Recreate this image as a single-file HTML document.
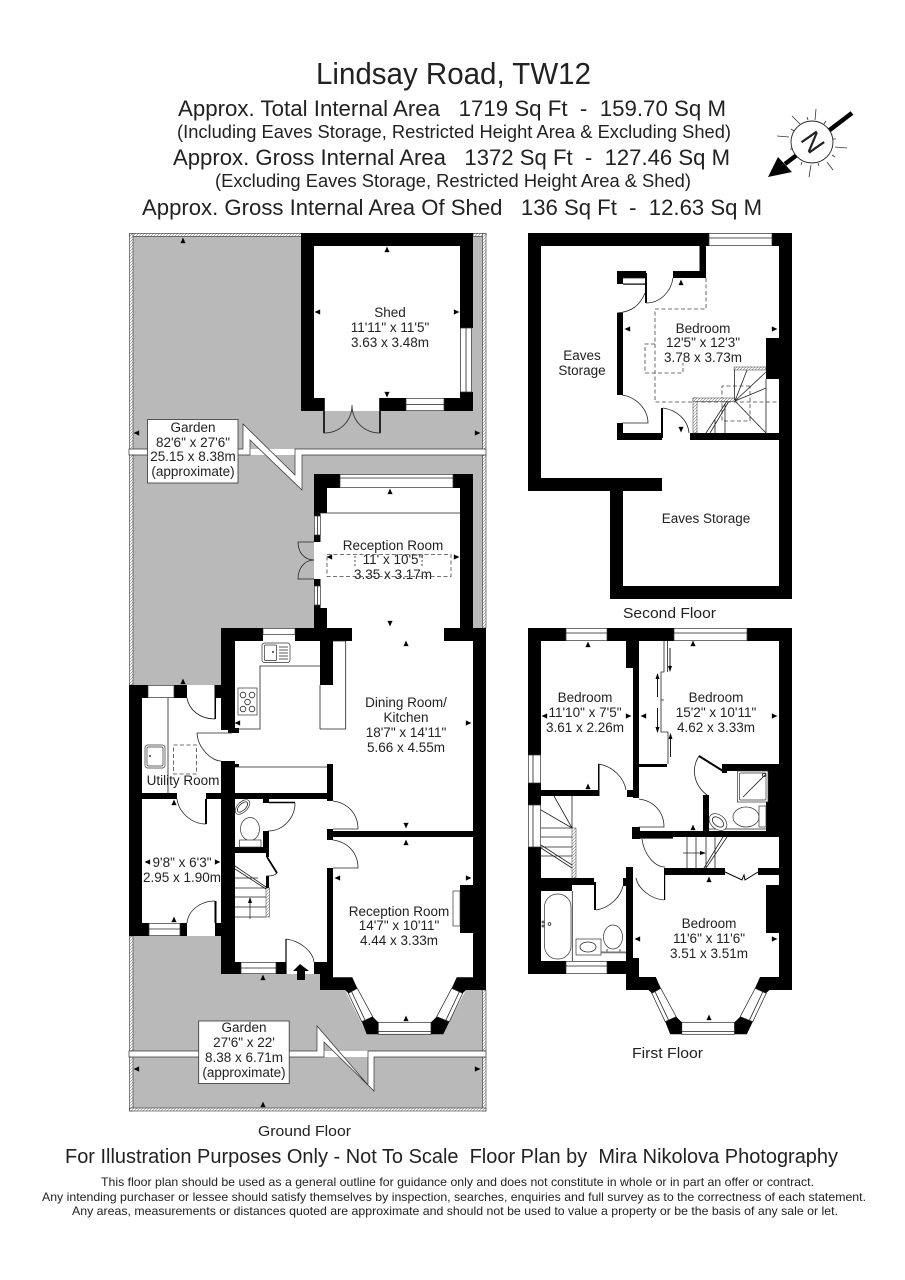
<!DOCTYPE html>
<html><head><meta charset="utf-8"><title>Lindsay Road, TW12</title>
<style>
html,body{margin:0;padding:0;background:#fff}
svg{display:block}
text{font-family:"Liberation Sans",sans-serif;fill:#222}
.r{font-size:13.5px;text-anchor:middle}
.k rect,.k polygon{fill:#000;stroke:none}
.w{fill:#fff;stroke:#333;stroke-width:.7}
.l{fill:none;stroke:#222;stroke-width:.8}
.d{fill:none;stroke:#444;stroke-width:.8;stroke-dasharray:4 2.5}
</style></head><body>
<svg width="905" height="1280" viewBox="0 0 905 1280" xmlns="http://www.w3.org/2000/svg">
<defs>
<pattern id="h" width="3" height="3" patternUnits="userSpaceOnUse"><rect width="3" height="3" fill="#fff"/><path d="M0 3L3 0" stroke="#555" stroke-width=".5"/></pattern>
<g id="u"><path d="M-2.2 2.500L0 -2.500L2.200 2.500Z" fill="#000"/><path d="M-2.500 2.800H2.500" stroke="#000" stroke-width=".7"/></g>
<g id="bay">
<polygon fill="#000" points="361.700,1021.700 372.700,1016.700 378.300,1022.300 378.300,1034.300 366.700,1034.300"/>
<polygon fill="#000" points="431,1022.300 436.700,1016.700 449.300,1021.700 443.300,1034.300 431,1034.300"/>
<polygon fill="#fff" stroke="#222" stroke-width=".7" points="348.300,993.300 357.300,988.300 372.700,1016.700 361.700,1021.700"/>
<polygon fill="#fff" stroke="#222" stroke-width=".7" points="436.700,1016.700 451.700,988.300 462.700,993.300 449.300,1021.700"/>
<path d="M351.500 991.500L365 1020M459.500 991.500L446 1020" stroke="#222" stroke-width=".8" fill="none"/>
<rect x="378.300" y="1022.300" width="52.700" height="12" fill="#fff" stroke="#222" stroke-width=".7"/>
<path d="M378.300 1031.500H431" stroke="#222" stroke-width=".8"/>
</g>
</defs>
<rect width="905" height="1280" fill="#fff"/>

<!-- Titles -->
<text x="316" y="84" font-size="31" textLength="275" lengthAdjust="spacingAndGlyphs">Lindsay Road, TW12</text>
<text x="178" y="116" font-size="22" textLength="548" lengthAdjust="spacingAndGlyphs" xml:space="preserve">Approx. Total Internal Area   1719 Sq Ft  -  159.70 Sq M</text>
<text x="177" y="138" font-size="18.5" textLength="554" lengthAdjust="spacingAndGlyphs">(Including Eaves Storage, Restricted Height Area &amp; Excluding Shed)</text>
<text x="173" y="165" font-size="22" textLength="557" lengthAdjust="spacingAndGlyphs" xml:space="preserve">Approx. Gross Internal Area   1372 Sq Ft  -  127.46 Sq M</text>
<text x="215" y="187" font-size="18.5" textLength="476" lengthAdjust="spacingAndGlyphs">(Excluding Eaves Storage, Restricted Height Area &amp; Shed)</text>
<text x="142" y="215" font-size="22" textLength="620" lengthAdjust="spacingAndGlyphs" xml:space="preserve">Approx. Gross Internal Area Of Shed   136 Sq Ft  -  12.63 Sq M</text>

<!-- Compass -->
<g>
<path d="M852 113L785 164" stroke="#000" stroke-width="4.5"/>
<polygon points="768,177 778,157 792,172" fill="#000"/>
<circle cx="812" cy="142" r="21" fill="#fff" stroke="#222" stroke-width=".9"/>
<path d="M816 109L815 120M792 116L800 124M777 136L789 137M809 177L811 165M833 170L827 162M847 148L835 147M807 117L808 120M826 121L824 124M790 149L793 149M836 139L833 139M791 129L794 131M835 157L832 155M801 165L802 162M819 166L818 163" stroke="#333" stroke-width=".8"/>
<text transform="translate(813 142) rotate(55)" y="9.5" font-size="27" text-anchor="middle">N</text>
</g>

<!-- GROUND FLOOR garden -->
<rect x="129.500" y="233" width="356.500" height="216" fill="#b9b9b9"/>
<rect x="129.500" y="455" width="356.500" height="596" fill="#b9b9b9"/>
<rect x="129.500" y="1057" width="356.500" height="54" fill="#b9b9b9"/>
<g fill="url(#h)" stroke="#333" stroke-width=".6">
<rect x="129.500" y="233.300" width="172" height="3"/>
<rect x="473" y="233.300" width="13" height="3"/>
<rect x="129.500" y="233.300" width="3.500" height="216"/>
<rect x="482.500" y="233.300" width="3.500" height="216"/>
<rect x="129.500" y="455" width="3.500" height="230"/>
<rect x="482.500" y="455" width="3.500" height="173"/>
<rect x="129.500" y="936" width="3.500" height="115"/>
<rect x="482.500" y="990" width="3.500" height="61"/>
<rect x="129.500" y="1057" width="3.500" height="54"/>
<rect x="482.500" y="1057" width="3.500" height="54"/>
<rect x="129.500" y="1108" width="356.500" height="3"/>
</g>
<polygon points="129,449 243,449 243,424 295,475 295,449 486,449 486,455 302,455 302,490 250,440 250,455 129,455" fill="#fff" stroke="#333" stroke-width=".7"/>
<polygon points="129,1051 317,1051 317,1026 368,1085 368,1051 486,1051 486,1057 374,1057 374,1091 324,1042 324,1057 129,1057" fill="#fff" stroke="#333" stroke-width=".7"/>

<!-- white interiors -->
<rect x="314" y="246" width="146" height="165" fill="#fff"/>
<polygon points="314,474 473,474 473,628 486,628 486,990 466,990 449,1022 443,1034 367,1034 361,1022 345,990 320,990 320,974 221,974 221,936 129,936 129,685 221,685 221,628 314,628" fill="#fff"/>

<!-- Ground walls -->
<g class="k">
<rect x="301" y="233" width="172" height="13"/>
<rect x="301" y="246" width="13" height="165"/>
<rect x="314" y="398" width="10" height="13"/>
<rect x="460" y="246" width="13" height="82"/>
<rect x="460" y="392" width="13" height="19"/>
<rect x="380" y="398" width="26" height="13"/>
<rect x="444" y="398" width="16" height="13"/>
<rect x="314" y="474" width="26" height="14"/>
<rect x="453" y="474" width="20" height="14"/>
<rect x="314" y="488" width="13" height="25"/>
<rect x="314" y="513" width="6.500" height="3"/>
<rect x="314" y="535" width="6.500" height="7"/>
<rect x="314" y="579" width="6.500" height="7"/>
<rect x="314" y="605" width="6.500" height="3"/>
<rect x="314" y="608" width="13" height="20"/>
<rect x="460" y="488" width="13" height="140"/>
<rect x="221" y="628" width="42" height="13"/>
<rect x="295" y="628" width="57" height="13"/>
<rect x="444" y="628" width="42" height="13"/>
<rect x="473" y="641" width="13" height="349"/>
<rect x="221" y="641" width="14" height="89"/>
<rect x="228" y="728" width="11" height="5"/>
<rect x="320" y="641" width="13" height="44"/>
<rect x="221" y="761" width="14" height="213"/>
<rect x="235" y="764" width="4" height="3"/>
<rect x="129" y="685" width="19" height="13"/>
<rect x="174" y="685" width="13" height="13"/>
<rect x="215" y="685" width="6" height="13"/>
<rect x="129" y="698" width="13" height="238"/>
<rect x="142" y="793" width="35" height="6"/>
<rect x="206" y="793" width="15" height="6"/>
<rect x="142" y="923" width="7" height="13"/>
<rect x="180" y="923" width="7" height="13"/>
<rect x="215" y="923" width="6" height="13"/>
<rect x="214.500" y="685" width="1.500" height="34"/>
<rect x="205" y="799" width="2" height="25"/>
<rect x="214.500" y="901" width="2" height="22"/>
<rect x="235" y="793" width="98" height="6"/>
<rect x="327" y="764" width="6" height="37"/>
<rect x="327" y="829" width="6" height="11"/>
<rect x="333" y="831" width="140" height="6"/>
<rect x="327" y="868" width="6" height="106"/>
<rect x="263" y="799" width="6" height="4"/>
<rect x="263" y="831" width="6" height="16"/>
<rect x="235" y="847" width="34" height="6"/>
<rect x="266" y="853" width="3" height="4"/>
<rect x="266" y="876" width="3" height="12"/>
<rect x="235" y="962" width="6" height="12"/>
<rect x="276" y="962" width="10" height="12"/>
<rect x="314" y="962" width="19" height="12"/>
<rect x="320" y="974" width="13" height="16"/>
<rect x="460" y="885" width="13" height="48"/>
<polygon points="333,977.300 352.300,977.300 357.300,988.300 348.300,993.300 345,990 320,990 320,977"/>
<polygon points="451.700,988.300 456.700,977.300 473,977.300 486,977 486,990 466,990 462.700,993.300"/>
</g>
<use href="#bay"/>
<!-- windows ground -->
<rect class="w" x="460.500" y="328" width="11" height="64"/><path class="l" d="M466 328V392"/>
<rect class="w" x="406" y="398.500" width="38" height="12"/><path class="l" d="M406 404.500H444"/>
<rect class="w" x="340" y="474.500" width="113" height="13"/><path class="l" d="M340 478H453"/>
<rect class="w" x="314.500" y="516" width="6" height="19"/><rect class="w" x="314.500" y="586" width="6" height="19"/>
<path class="l" d="M317.500 516V535M317.500 586V605"/>
<rect class="w" x="263" y="628.500" width="32" height="6"/>
<rect class="w" x="148" y="685.500" width="26" height="12"/>
<rect class="w" x="149" y="923.500" width="31" height="12"/><path class="l" d="M149 929H180"/>
<rect class="w" x="241" y="962.500" width="35" height="11"/><path class="l" d="M241 968H276"/>
<rect class="w" x="453" y="891" width="7" height="35"/>

<!-- shed doors -->
<path d="M324 398V433M380 398V433" stroke="#000" stroke-width="1.600"/>
<path class="l" d="M324 433C340 433 352 421 352 405M380 433C364 433 352 421 352 405" stroke-width="1"/>
<!-- reception french doors -->
<path class="l" d="M314 542H298C298 552 304 560 314 560M314 579H298C298 569 304 560 314 560"/>
<path class="l" d="M321 513H460"/>
<!-- kitchen fittings -->
<path class="l" d="M345.700 641V729H320M320 685V729M235 729H260V666H320M333 641H345.700"/>
<rect class="w" x="262" y="643" width="28" height="19.500" rx="2.500"/>
<rect class="w" x="264.500" y="645" width="12" height="15.500" rx="1"/>
<path class="l" d="M279 647H288M279 650H288M279 653H288M279 656H288M279 659H288"/>
<circle cx="273" cy="652" r="1" fill="#333"/>
<rect class="w" x="238" y="688" width="19" height="27"/>
<g class="l"><circle cx="243" cy="695" r="2.800"/><circle cx="252" cy="695" r="2.800"/><circle cx="247.500" cy="702" r="2.800"/><circle cx="243" cy="709" r="2.800"/><circle cx="252" cy="709" r="2.800"/></g>
<!-- utility fittings -->
<path class="l" d="M168 698V793"/>
<rect class="w" x="145" y="745" width="20" height="23" rx="2.500"/>
<rect class="w" x="147" y="747" width="16" height="19" rx="1.500"/>
<circle cx="150" cy="756" r="1" fill="#333"/>
<rect class="d" x="173.500" y="745" width="23" height="29"/>
<path class="l" d="M187 698C189 710 200 719 215 719"/>
<path class="l" d="M197 733H232M197 733C198 749 212 761 221 761"/>
<path class="l" d="M177 799C179 813 192 824 206 824"/>
<path class="l" d="M187 923C188 911 200 901 215 901"/>
<!-- hall -->
<path class="l" d="M235 767H327"/>
<path class="l" d="M333 801C348 803 358 814 358 829H333"/>
<path class="l" d="M333 840C348 842 358 853 358 868H333"/>
<path class="l" d="M295 803C295 818 283 831 268 831"/>
<path d="M269 802.500H295" stroke="#000" stroke-width="1.400"/>
<path class="l" d="M286 939C301 941 313 952 314 962"/>
<path d="M286 939V974" stroke="#000" stroke-width="1.200"/>
<polygon points="300,964 293,971 297,971 297,980 305,980 305,971 309,971" fill="#000"/>
<!-- WC -->
<ellipse cx="250" cy="829" rx="9.500" ry="11.500" class="w"/>
<rect class="w" x="239.500" y="840" width="21.500" height="7"/>
<ellipse cx="242.500" cy="807" rx="9" ry="5" transform="rotate(-45 242.500 807)" class="w"/>
<ellipse cx="242.500" cy="807" rx="6.500" ry="3.200" transform="rotate(-45 242.500 807)" class="l"/>
<!-- stairs ground -->
<path class="l" d="M235 878H258M235 888H266M235 897H266M235 907H266M235 917H266M235 866L266 887M235 869L266 889M250 919V899"/>
<rect x="266" y="888" width="3.500" height="29" fill="url(#h)" stroke="#333" stroke-width=".5"/>
<polygon points="250,897 248,903 252,903" fill="#000"/>
<path d="M267 857L277 873" fill="none" stroke="#000" stroke-width="1.800"/>
<path class="l" d="M277 873C274 876 270 876 266 876"/>

<!-- Garden labels -->
<rect x="147.500" y="419.500" width="90.500" height="63.500" fill="#fff" stroke="#333" stroke-width=".8"/>
<rect x="198.700" y="1021" width="90.500" height="62.500" fill="#fff" stroke="#333" stroke-width=".8"/>

<!-- SECOND FLOOR -->
<g class="k">
<rect x="528" y="233" width="181" height="13"/>
<rect x="772" y="233" width="20" height="13"/>
<rect x="779" y="246" width="13" height="353"/>
<rect x="528" y="246" width="13" height="245"/>
<rect x="541" y="478" width="121" height="13"/>
<rect x="610" y="491" width="13" height="108"/>
<rect x="623" y="586" width="156" height="13"/>
<rect x="699.500" y="246" width="6.500" height="32"/>
<rect x="673" y="271" width="33" height="7"/>
<rect x="617" y="271" width="29" height="7"/>
<rect x="617" y="278" width="6" height="6"/>
<rect x="645" y="273" width="2" height="30"/>
<rect x="623" y="283.500" width="22" height="1.200"/>
<rect x="617" y="313" width="6" height="82"/>
<rect x="617" y="423" width="6" height="17"/>
<rect x="617" y="433" width="45" height="7"/>
<rect x="661" y="408" width="2" height="30"/>
<rect x="690" y="433" width="89" height="7"/>
<rect x="766" y="338" width="13" height="41"/>
</g>
<rect class="w" x="709" y="233.500" width="63" height="12"/><path class="l" d="M709 238H772"/>
<path class="l" d="M623 278H645M673 278C671 292 660 303 646 303M645 293C640 305 632 312 617 313"/>
<path class="l" d="M622 395C636 397 648 409 648 423H622"/>
<path class="l" d="M663 408C677 410 688 420 689 433"/>
<path class="d" d="M706 278V309H655V402H778"/>
<path class="d" d="M655 344H645V373H683V363"/>
<path class="d" d="M750 386H722V421H750V386"/>
<rect x="734" y="367" width="32" height="3" fill="url(#h)" stroke="#333" stroke-width=".5"/>
<rect x="693" y="398" width="4" height="35" fill="url(#h)" stroke="#333" stroke-width=".5"/>
<rect x="693" y="398" width="42" height="3.500" fill="url(#h)" stroke="#333" stroke-width=".5"/>
<path class="l" d="M734.500 370V400M766 379V433M735 401L747 370M735 401L766 372M735 401L766 388M735 401L766 433M727 401L706 433M728.500 402L710 433M725 404V433M715 420V433"/>

<!-- FIRST FLOOR -->
<g class="k">
<rect x="528" y="628" width="38" height="13"/>
<rect x="607" y="628" width="67" height="13"/>
<rect x="747" y="628" width="45" height="13"/>
<rect x="779" y="641" width="13" height="349"/>
<rect x="528" y="641" width="13" height="114"/>
<rect x="528" y="783" width="13" height="22"/>
<rect x="528" y="847" width="13" height="127"/>
<rect x="626" y="641" width="7" height="27"/>
<rect x="633" y="641" width="6" height="157"/>
<rect x="541" y="790" width="57" height="6"/>
<rect x="598" y="764" width="1.500" height="32"/>
<rect x="627" y="790" width="12" height="7"/>
<rect x="638" y="764" width="29" height="3"/>
<rect x="632" y="827" width="8" height="12"/>
<rect x="633" y="831" width="146" height="6"/>
<rect x="640" y="837" width="33" height="1.600"/>
<rect x="725" y="764" width="54" height="7"/>
<rect x="722" y="764" width="5" height="9"/>
<rect x="703" y="795" width="6" height="36"/>
<rect x="768" y="771" width="11" height="60"/>
<rect x="766" y="802" width="13" height="29"/>
<rect x="664" y="868" width="61" height="7"/>
<rect x="758" y="868" width="21" height="7"/>
<rect x="664" y="868" width="1.200" height="32"/>
<rect x="626" y="867" width="7" height="123"/>
<rect x="633" y="958" width="6" height="22"/>
<rect x="623" y="878" width="4" height="8"/>
<rect x="541" y="878" width="53" height="7"/>
<rect x="541" y="885" width="31" height="6"/>
<rect x="594" y="882" width="2" height="28"/>
<rect x="541" y="961" width="25" height="13"/>
<rect x="607" y="961" width="19" height="13"/>
<rect x="766" y="885" width="13" height="48"/>
<polygon points="639,977 655.800,977 660.800,988.300 651.800,993.300 648.500,990 626,990 626,977"/>
<polygon points="755,988.300 760,977 779,977 792,977 792,990 769.500,990 766,993.300"/>
</g>
<use href="#bay" transform="translate(303.500 0)"/>
<rect class="w" x="566" y="628.500" width="41" height="12"/><path class="l" d="M566 633H607"/>
<rect class="w" x="674" y="628.500" width="73" height="12"/><path class="l" d="M674 633H747"/>
<rect class="w" x="566" y="961.500" width="41" height="12"/><path class="l" d="M566 966H607"/>
<rect class="w" x="528.500" y="755" width="12" height="28"/><path class="l" d="M533 755V783"/>
<rect class="w" x="528.500" y="805" width="12" height="42"/><path class="l" d="M533 805V847"/>
<!-- wardrobe -->
<path class="l" d="M664 641V672H661V732H668V764M667.500 641V672M661 700H664"/>
<path d="M670 648V670M657.500 675V697M657.500 708V731M670.500 735V757" stroke="#000" stroke-width=".9"/>
<g fill="#000"><polygon points="670,672 668,666 672,666"/><polygon points="657.500,673 655.500,679 659.500,679"/><polygon points="657.500,733 655.500,727 659.500,727"/><polygon points="670.500,733 668.500,739 672.500,739"/></g>
<!-- door ensuite -->
<path d="M699 756L723 771" stroke="#000" stroke-width="2"/>
<path class="l" d="M699 756C690 770 695 786 707 795"/>
<!-- shower -->
<rect class="w" x="737.500" y="771" width="30.500" height="31"/>
<rect class="w" x="739.500" y="773" width="26.500" height="27" rx="1"/>
<path class="l" d="M743 797L765 775"/>
<circle cx="764" cy="775" r="1.600" class="l"/>
<ellipse cx="746" cy="817" rx="13" ry="10" class="w"/>
<rect class="w" x="759" y="806" width="7" height="21"/>
<path class="l" d="M709 829H766"/>
<ellipse cx="718" cy="822" rx="10" ry="7" transform="rotate(40 718 822)" class="w"/>
<ellipse cx="718" cy="822" rx="6.500" ry="4" transform="rotate(40 718 822)" class="l"/>
<path class="l" d="M639 799C654 801 664 812 664 827H639"/>
<!-- door bed 1 -->
<path class="l" d="M598 764C613 766 624 778 626 790"/>
<!-- landing -->
<path class="l" d="M642 839C644 855 655 867 665 867"/>
<path class="l" d="M636 878C638 888 650 899 664 900"/>
<!-- middle stairs -->
<path class="l" d="M687 837V868M696 837V868M706 837V868M715 837V868M727 837L706 868M723 837L704 868M683 853H703"/>
<polygon points="706,853 700,851 700,855" fill="#000"/>
<path d="M725 872L742 880L744 875L745 880L758 872" fill="none" stroke="#000" stroke-width="1"/>
<!-- left stairs -->
<rect x="572" y="828" width="4" height="50" fill="url(#h)" stroke="#333" stroke-width=".5"/>
<path class="l" d="M572 796V828M541 828H572M541 837H572M541 847H572M541 856H572M541 810L572 828M554 796L572 828M541 845L572 865M541 848L572 868"/>
<!-- bathroom -->
<path class="l" d="M572.300 891V961"/>
<path class="l" d="M596 910C609 908 620 898 623 886"/>
<rect class="w" x="544.500" y="894" width="26.500" height="65" rx="13"/>
<g class="l"><circle cx="543" cy="922" r="1"/><circle cx="543" cy="926" r="1"/><circle cx="549.500" cy="924" r="1.400"/></g>
<rect class="w" x="576" y="939" width="25" height="16"/>
<ellipse cx="588" cy="947" rx="8" ry="5" class="l"/>
<ellipse cx="613" cy="937" rx="9.500" ry="12" class="w"/>
<path class="l" d="M601 952H626M607 949V952M620 949V952"/>
<rect x="601" y="951.500" width="25" height="1.800" fill="#777"/>

<!-- Dimension ticks -->
<g>
<use href="#u" x="183" y="240"/><use href="#u" transform="translate(136 433) rotate(-90)"/><use href="#u" transform="translate(478 433) rotate(90)"/>
<use href="#u" x="387" y="249"/><use href="#u" transform="translate(317 312) rotate(-90)"/><use href="#u" transform="translate(457 312) rotate(90)"/><use href="#u" transform="translate(387 395) rotate(180)"/>
<use href="#u" x="390" y="491"/><use href="#u" transform="translate(329 557) rotate(-90)"/><use href="#u" transform="translate(457 557) rotate(90)"/><use href="#u" transform="translate(390 624) rotate(180)"/><use href="#u" x="406" y="643"/>
<use href="#u" transform="translate(237 723) rotate(-90)"/><use href="#u" transform="translate(469 723) rotate(90)"/><use href="#u" transform="translate(406 826) rotate(180)"/>
<use href="#u" x="406" y="842"/><use href="#u" transform="translate(337 878) rotate(-90)"/><use href="#u" transform="translate(469 878) rotate(90)"/><use href="#u" x="406" y="1018"/>
<use href="#u" x="183" y="681"/><use href="#u" x="174" y="802"/><use href="#u" transform="translate(147 862) rotate(-90)"/><use href="#u" transform="translate(218 862) rotate(90)"/><use href="#u" x="174" y="919"/><use href="#u" x="263" y="977"/>
<use href="#u" transform="translate(136 1069) rotate(-90)"/><use href="#u" transform="translate(478 1069) rotate(90)"/><use href="#u" x="263" y="1104"/>
<use href="#u" x="681" y="282"/><use href="#u" transform="translate(627 329) rotate(-90)"/><use href="#u" transform="translate(775 329) rotate(90)"/><use href="#u" transform="translate(681 430) rotate(180)"/>
<use href="#u" x="588" y="644"/><use href="#u" transform="translate(544 716) rotate(-90)"/><use href="#u" transform="translate(629 716) rotate(90)"/><use href="#u" x="588" y="786"/>
<use href="#u" transform="translate(643 716) rotate(-90)"/><use href="#u" x="693" y="643"/><use href="#u" transform="translate(775 716) rotate(90)"/><use href="#u" x="693" y="827"/>
<use href="#u" x="709" y="879"/><use href="#u" transform="translate(637 939) rotate(-90)"/><use href="#u" transform="translate(775 939) rotate(90)"/><use href="#u" x="709" y="1017"/>
</g>

<!-- Room labels -->
<g>
<text class="r" x="390" y="317">Shed</text><text class="r" x="390" y="332">11'11" x 11'5"</text><text class="r" x="390" y="347">3.63 x 3.48m</text>
<text class="r" x="193" y="432">Garden</text><text class="r" x="193" y="447">82'6" x 27'6"</text><text class="r" x="193" y="461">25.15 x 8.38m</text><text class="r" x="193" y="476">(approximate)</text>
<text class="r" x="393" y="550">Reception Room</text><text class="r" x="393" y="564">11' x 10'5"</text><text class="r" x="393" y="579">3.35 x 3.17m</text>
<path class="d" d="M327 554.500H451V576.500H327Z"/>
<path class="l" d="M355 556V568M422 556V568" stroke-dasharray="2 2"/>
<text class="r" x="406" y="707">Dining Room/</text><text class="r" x="406" y="722">Kitchen</text><text class="r" x="406" y="737">18'7" x 14'11"</text><text class="r" x="406" y="752">5.66 x 4.55m</text>
<text class="r" x="183" y="785">Utility Room</text>
<text class="r" x="182" y="867">9'8" x 6'3"</text><text class="r" x="182" y="882">2.95 x 1.90m</text>
<text class="r" x="399" y="916">Reception Room</text><text class="r" x="399" y="930">14'7" x 10'11"</text><text class="r" x="399" y="945">4.44 x 3.33m</text>
<text class="r" x="244" y="1032">Garden</text><text class="r" x="244" y="1047">27'6" x 22'</text><text class="r" x="244" y="1062">8.38 x 6.71m</text><text class="r" x="244" y="1077">(approximate)</text>
<text class="r" x="703" y="333">Bedroom</text><text class="r" x="703" y="347">12'5" x 12'3"</text><text class="r" x="703" y="362">3.78 x 3.73m</text>
<text class="r" x="582" y="360">Eaves</text><text class="r" x="582" y="375">Storage</text>
<text class="r" x="706" y="523">Eaves Storage</text>
<text class="r" x="585" y="702">Bedroom</text><text class="r" x="585" y="717">11'10" x 7'5"</text><text class="r" x="585" y="732">3.61 x 2.26m</text>
<text class="r" x="716" y="702">Bedroom</text><text class="r" x="716" y="717">15'2" x 10'11"</text><text class="r" x="716" y="732">4.62 x 3.33m</text>
<text class="r" x="709" y="928">Bedroom</text><text class="r" x="709" y="943">11'6" x 11'6"</text><text class="r" x="709" y="958">3.51 x 3.51m</text>
</g>

<!-- Floor names -->
<text x="258" y="1136" font-size="14.500" textLength="93" lengthAdjust="spacingAndGlyphs">Ground Floor</text>
<text x="623" y="618" font-size="14.500" textLength="93" lengthAdjust="spacingAndGlyphs">Second Floor</text>
<text x="632" y="1058" font-size="14.500" textLength="71" lengthAdjust="spacingAndGlyphs">First Floor</text>

<!-- Footer -->
<text x="65" y="1163" font-size="20" textLength="773" lengthAdjust="spacingAndGlyphs" xml:space="preserve">For Illustration Purposes Only - Not To Scale  Floor Plan by  Mira Nikolova Photography</text>
<text x="101" y="1186" font-size="12" textLength="713" lengthAdjust="spacingAndGlyphs">This floor plan should be used as a general outline for guidance only and does not constitute in whole or in part an offer or contract.</text>
<text x="42" y="1201" font-size="12" textLength="824" lengthAdjust="spacingAndGlyphs">Any intending purchaser or lessee should satisfy themselves by inspection, searches, enquiries and full survey as to the correctness of each statement.</text>
<text x="72" y="1215" font-size="12" textLength="766" lengthAdjust="spacingAndGlyphs">Any areas, measurements or distances quoted are approximate and should not be used to value a property or be the basis of any sale or let.</text>
</svg>
</body></html>
